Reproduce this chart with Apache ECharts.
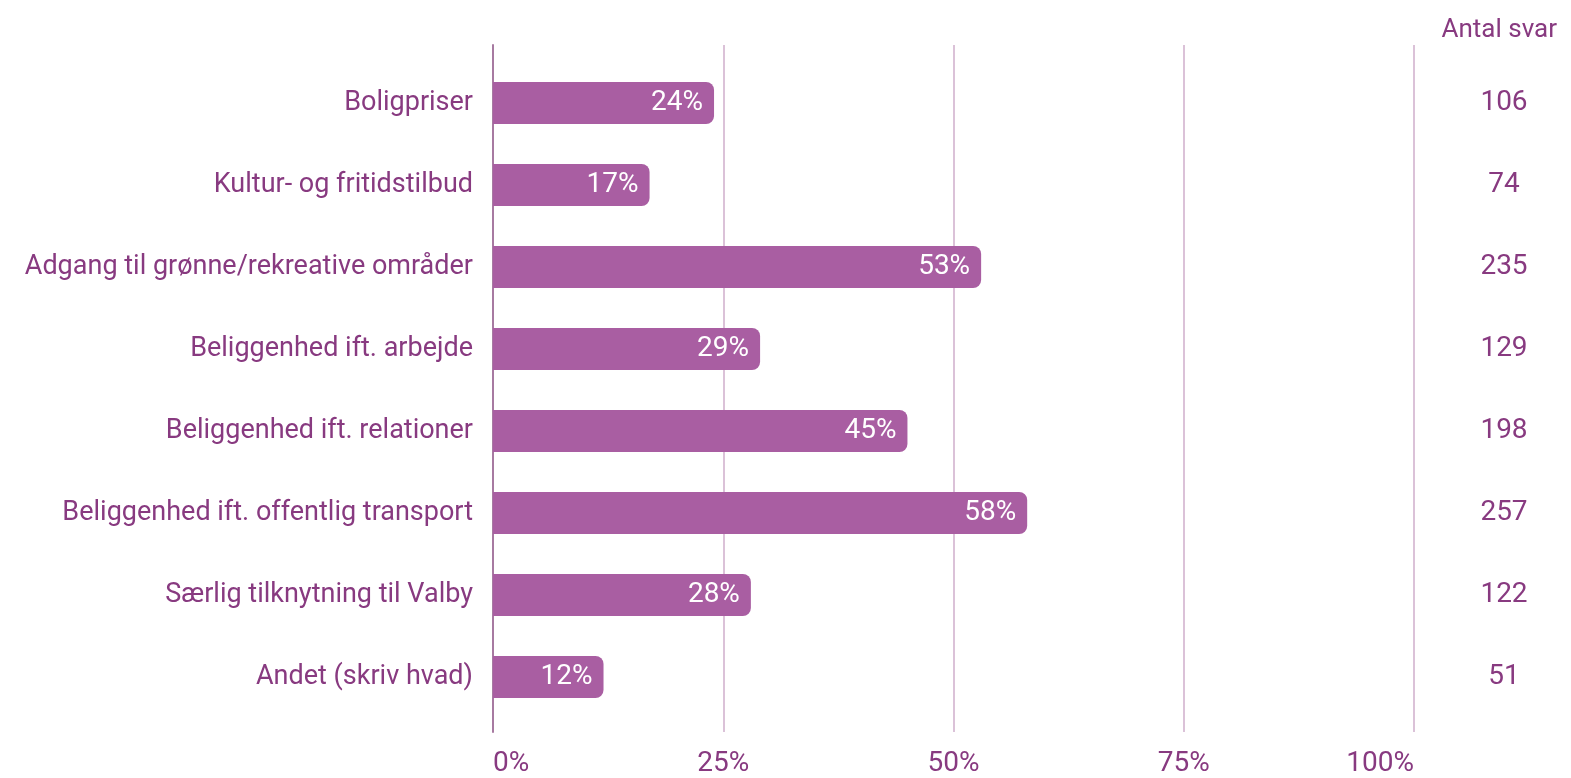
<!DOCTYPE html>
<html>
<head>
<meta charset="utf-8">
<script src="https://cdn.jsdelivr.net/npm/echarts@6/dist/echarts.min.js"></script>
<style>
    html, body { margin: 0; padding: 0; background: #fff; }
    #chart { width: 1571px; height: 778px; }
</style>
</head>
<body>
<div id="chart"></div>
<script>
(function () {
    'use strict';

    var categories = [
        'Boligpriser',
        'Kultur- og fritidstilbud',
        'Adgang til grønne/rekreative områder',
        'Beliggenhed ift. arbejde',
        'Beliggenhed ift. relationer',
        'Beliggenhed ift. offentlig transport',
        'Særlig tilknytning til Valby',
        'Andet (skriv hvad)'
    ];
    var percentValues = [24, 17, 53, 29, 45, 58, 28, 12];
    var answerCounts = ['106', '74', '235', '129', '198', '257', '122', '51'];
    var xTicks = [0, 25, 50, 75, 100];

    var textColor = '#883a80';
    var barColor = '#a95ea2';
    var font = 'Roboto';

    var myChart = echarts.init(document.getElementById('chart'));

    var option = {
        backgroundColor: '#ffffff',
        animation: false,
        title: {
            text: 'Antal svar',
            right: 9,
            top: 12,
            textStyle: { color: textColor, fontFamily: font, fontSize: 26, fontWeight: 'normal' }
        },
        grid: [
            // bars
            { left: 493, right: 157, top: 62, bottom: 60 },
            // taller grid, only for the vertical lines + bottom labels
            { left: 493, right: 157, top: 45, bottom: 43 }
        ],
        xAxis: [
            {
                gridIndex: 0, type: 'value', min: 0, max: 100, interval: 25,
                axisLine: { show: false }, axisTick: { show: false },
                axisLabel: { show: false }, splitLine: { show: false }
            },
            {
                gridIndex: 1, type: 'value', min: 0, max: 100, interval: 25,
                axisLine: { show: false }, axisTick: { show: false },
                splitLine: { show: true, lineStyle: { color: '#cfaecb', width: 1.5 } },
                axisLabel: {
                    color: textColor, fontFamily: font, fontSize: 28, margin: 18,
                    alignMinLabel: 'left', alignMaxLabel: 'right',
                    customValues: xTicks,
                    formatter: function (v) { return v + '%'; }
                }
            }
        ],
        yAxis: [
            {
                gridIndex: 0, type: 'category', data: categories, inverse: true,
                axisLine: { show: false },
                axisTick: { show: false },
                axisLabel: { color: textColor, fontFamily: font, fontSize: 27, margin: 20 }
            },
            {
                gridIndex: 0, type: 'category', data: answerCounts, inverse: true, position: 'right',
                axisLine: { show: false }, axisTick: { show: false },
                axisLabel: { color: textColor, fontFamily: font, fontSize: 28, margin: 90, align: 'center' }
            },
            {
                // only the darker zero line
                gridIndex: 1, type: 'value', min: 0, max: 1,
                axisLine: { show: true, onZero: false, lineStyle: { color: '#a77aa1', width: 2 } },
                axisTick: { show: false }, axisLabel: { show: false }, splitLine: { show: false }
            }
        ],
        series: [
            {
                type: 'bar',
                xAxisIndex: 0,
                yAxisIndex: 0,
                data: percentValues,
                barWidth: 42,
                itemStyle: { color: barColor, borderRadius: [0, 8, 8, 0] },
                label: {
                    show: true,
                    position: 'insideRight',
                    distance: 11,
                    color: '#ffffff',
                    fontFamily: font,
                    fontSize: 28,
                    formatter: '{c}%'
                }
            }
        ]
    };

    myChart.setOption(option);
})();
</script>
</body>
</html>
